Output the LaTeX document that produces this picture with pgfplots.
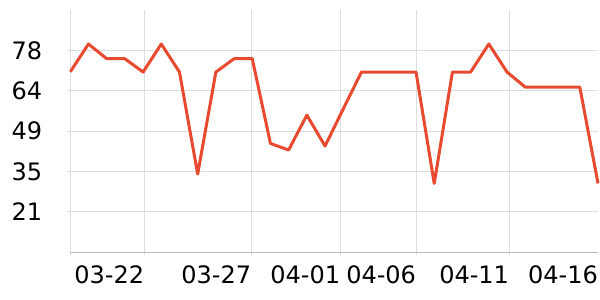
\documentclass[border=0pt]{standalone}
\usepackage{fontspec}
\setmainfont{DejaVu Sans}
\usepackage{pgfplots}
\pgfplotsset{compat=1.18}
\definecolor{lineC}{HTML}{E84A2F}
\definecolor{gridC}{HTML}{DDDDDD}
\definecolor{axC}{HTML}{BBBBBB}
\begin{document}
\fontsize{24bp}{28bp}\selectfont
\begin{tikzpicture}
\useasboundingbox (0,0) rectangle (600bp,300bp);
\begin{axis}[
  at={(70.3bp,47.7bp)}, anchor=south west,
  scale only axis, width=527.7bp, height=242.3bp,
  xmin=0, xmax=29, ymin=7, ymax=92.5,
  axis x line*=bottom, axis y line*=left,
  x axis line style={draw=axC, line width=1.2bp, -},
  y axis line style={draw=gridC, line width=1bp, -},
  xtick={0,4.07,9.95,14.84,19.01,24.12},
  xticklabels={,03-22,03-27,04-01,04-06,04-11},
  extra x ticks={29}, extra x tick labels={04-16},
  extra x tick style={grid=none, tick style={draw=none}},
  ytick={21.25,35.5,49.75,64,78.25},
  yticklabels={21,35,49,64,78},
  grid=major,
  major grid style={draw=gridC, line width=1bp},
  tick align=outside, major tick length=3bp,
  tick style={draw=gridC, line width=1bp},
  xticklabel style={anchor=north east, inner sep=0pt},
  yticklabel style={anchor=east, inner sep=0pt},
  xticklabel shift=9.7bp,
  yticklabel shift=25bp,
  /pgf/number format/assume math mode=true,
  clip=false,
]
\addplot[lineC, line width=3bp, line join=round, mark=none] coordinates {
(0,70.7) (1,80.5) (2,75.3) (3,75.3) (4,70.6) (5,80.5) (6,70.6) (7,34.6)
(8,70.6) (9,75.3) (10,75.3) (11,45.4) (12,43.1) (13,55.4) (14,44.5) (15,57.6)
(16,70.6) (17,70.6) (18,70.6) (19,70.6) (20,31.3) (21,70.6) (22,70.6) (23,80.5)
(24,70.6) (25,65.3) (26,65.3) (27,65.3) (28,65.3) (29,31.3)
};
\end{axis}
\end{tikzpicture}
\end{document}
